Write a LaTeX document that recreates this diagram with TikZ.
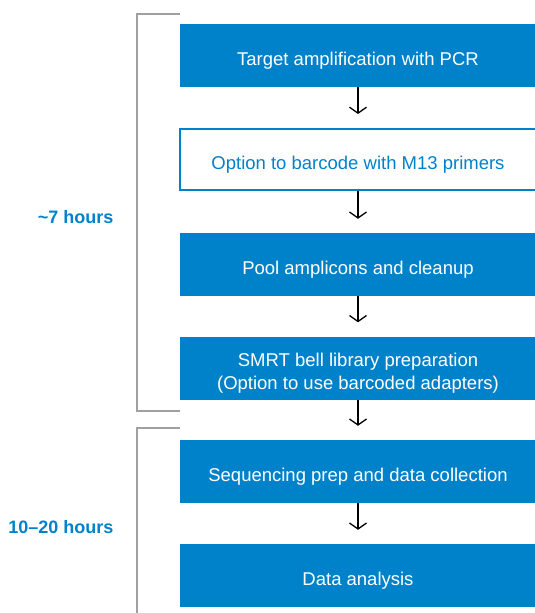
\documentclass[tikz,border=0pt]{standalone}
\usepackage{fontspec}
\setmainfont{Liberation Sans}
\usetikzlibrary{arrows.meta,positioning}
\definecolor{pacblue}{RGB}{0,130,202}
\definecolor{pacgrey}{RGB}{160,160,164}

\begin{document}
\begin{tikzpicture}[x=1pt,y=-1pt,
    stepfill/.style={fill=pacblue, text=white, minimum width=356pt, minimum height=63pt,
        inner sep=0pt, align=center, text height=19pt, text depth=0pt,
        font=\fontsize{18.5}{23}\selectfont},
    stepopen/.style={stepfill, fill=white, draw=pacblue, line width=2pt, text=pacblue,
        minimum height=61pt},
    flow/.style={-{Straight Barb[length=6pt,width=17pt]}, line width=1.3pt, shorten >=14pt},
    bracket/.style={pacgrey, line width=2.5pt},
    timelabel/.style={anchor=east, text=pacblue, font=\fontsize{18}{20}\bfseries}]
    \clip (0,0) rectangle (535,613);

    % workflow steps
    \node[stepfill] (amp) at (358,55.5) {Target amplification with PCR};
    \node[stepopen] (barcode) at (358,159.5) {Option to barcode with M13 primers};
    \node[stepfill] (pool) at (358,264.5) {Pool amplicons and cleanup};
    \node[stepfill, text height=42pt] (smrt) at (358,368) {SMRT bell library preparation\\(Option to use barcoded adapters)};
    \node[stepfill] (seq) at (358,471.5) {Sequencing prep and data collection};
    \node[stepfill] (analysis) at (358,575.5) {Data analysis};

    \draw[flow] (amp) -- (barcode);
    \draw[flow] (barcode) -- (pool);
    \draw[flow] (pool) -- (smrt);
    \draw[flow] (smrt) -- (seq);
    \draw[flow] (seq) -- (analysis);

    % time brackets
    \draw[bracket] (180,14) -- (137,14) -- (137,411) -- (180,411);
    \draw[bracket] (180,428) -- (137,428) -- (137,625);

    \node[timelabel] (early) at (117,217) {\textasciitilde7 hours};
    \node[timelabel] (late) at (117,527) {10--20 hours};
\end{tikzpicture}
\end{document}
